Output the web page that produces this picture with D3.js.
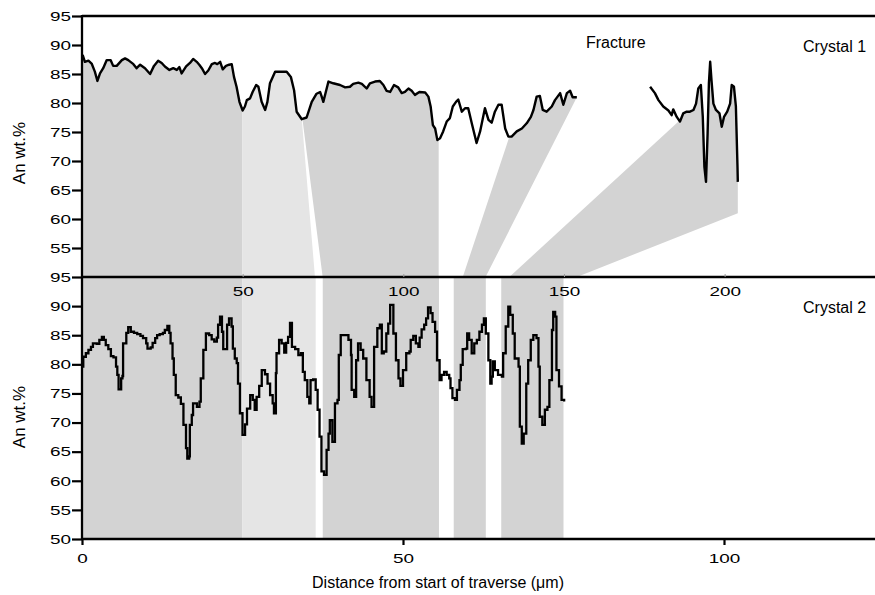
<!DOCTYPE html>
<html><head><meta charset="utf-8">
<script src="https://cdn.jsdelivr.net/npm/d3@7"></script>
<style>body{margin:0;background:#fff}svg{display:block}</style>
</head><body><svg id="chart" width="875" height="595"></svg>
<script>
// ---------------- DATA ----------------
// Crystal 1 (top panel), distance in µm, An wt.%
const crystal1Part1 = [
[0.2,88.3],[0.9,87.1],[2.0,87.3],[3.0,86.8],[4.0,85.4],[4.8,83.8],[5.6,85.1],[6.6,86.0],[7.7,87.4],[8.9,87.4],
[9.7,86.4],[10.8,86.4],[12.4,87.4],[13.4,87.7],[14.4,87.4],[16.0,86.7],[17.0,86.0],[18.1,86.6],[19.6,86.0],[21.2,85.0],
[22.4,86.4],[23.7,87.3],[24.8,86.9],[25.8,86.3],[27.2,85.7],[28.4,86.0],[29.5,85.7],[30.3,86.2],[31.0,85.1],[32.4,86.3],
[33.6,86.9],[34.6,87.6],[35.7,87.1],[36.5,86.6],[37.3,86.0],[38.3,85.0],[39.3,85.6],[40.4,86.7],[41.4,86.9],[42.1,86.7],
[43.0,87.1],[43.8,85.8],[44.8,86.4],[45.8,86.6],[46.6,86.7],[47.3,84.5],[48.1,82.8],[49.0,80.2],[50.0,78.7],[50.7,79.4],
[51.3,80.5],[52.3,80.8],[53.1,81.9],[54.2,83.1],[54.9,82.8],[55.9,80.2],[57.0,78.8],[57.7,80.2],[58.5,83.4],[60.1,85.4],
[61.6,85.4],[63.7,85.4],[65.0,84.5],[66.0,82.2],[66.8,78.5],[68.4,77.2],[69.9,77.5],[71.5,80.2],[73.0,81.6],[74.1,81.9],
[74.6,81.1],[75.1,80.2],[76.7,83.7],[78.2,83.4],[80.3,83.1],[81.9,82.7],[83.4,82.8],[84.4,83.3],[86.0,83.5],[87.1,83.3],
[88.6,82.5],[89.6,83.4],[91.2,83.7],[92.7,83.8],[93.8,83.1],[94.8,82.1],[95.9,81.9],[97.1,83.1],[98.4,82.7],[99.5,81.7],
[100.5,81.9],[101.6,82.5],[102.6,82.1],[103.6,81.4],[105.0,81.9],[106.8,81.8],[107.8,81.1],[108.5,79.4],[109.2,76.2],[109.9,75.6],
[110.6,73.6],[111.4,73.9],[112.4,75.1],[113.5,76.8],[114.5,77.4],[115.4,79.4],[116.4,80.2],[117.1,80.6],[118.2,78.5],[119.2,79.1],
[120.2,79.1],[121.3,76.5],[122.8,73.1],[123.9,75.1],[125.4,79.1],[126.5,77.1],[127.5,76.6],[128.5,78.5],[129.6,79.7],[130.6,79.7],
[131.7,75.6],[132.7,74.2],[133.7,74.2],[135.3,75.1],[136.9,75.6],[138.4,76.5],[139.7,77.6],[140.5,78.8],[141.5,81.1],[142.5,81.2],
[143.4,78.8],[144.6,78.5],[146.2,79.4],[147.2,80.5],[148.8,81.7],[149.8,79.7],[150.9,81.7],[151.9,82.1],[152.7,81.0],[154.0,81.0]
];
const crystal1Part2 = [
[176.8,82.8],[178.3,81.7],[179.4,80.5],[180.9,79.4],[182.5,78.7],[183.5,77.9],[184.0,78.9],[185.1,77.6],[186.1,76.8],[187.1,78.2],
[188.2,78.5],[189.2,78.5],[190.3,78.8],[191.1,79.9],[191.8,82.5],[192.6,83.1],[193.2,77.6],[193.7,69.0],[194.2,66.4],[194.7,74.8],
[195.1,83.4],[195.5,87.1],[195.9,84.0],[196.5,79.9],[197.3,78.8],[198.4,78.2],[199.1,75.9],[199.8,77.6],[200.8,78.5],[201.7,79.9],
[202.2,83.1],[202.9,82.8],[203.5,79.4],[204.0,69.0],[204.1,66.4]
];
// Crystal 2 (bottom panel)
const crystal2 = [
[0.1,79.6],[0.2,81.3],[0.6,81.9],[1.0,82.5],[1.4,83.0],[1.7,83.6],[2.3,83.5],[2.7,84.2],[3.1,84.7],[3.4,84.2],
[3.7,83.3],[4.1,82.6],[4.5,81.4],[4.9,81.2],[5.3,79.6],[5.5,78.2],[5.7,75.7],[6.0,75.7],[6.1,77.6],[6.3,78.0],
[6.4,83.6],[6.9,85.4],[7.2,86.4],[7.6,85.6],[8.1,85.4],[8.6,85.2],[9.1,84.9],[9.5,84.5],[10.0,83.6],[10.2,82.7],
[10.7,82.9],[11.0,83.7],[11.4,84.5],[11.7,85.0],[12.1,85.2],[12.6,85.4],[12.9,85.9],[13.3,86.6],[13.6,85.4],[13.8,83.6],
[14.1,81.0],[14.3,78.2],[14.6,74.7],[15.0,74.3],[15.4,73.2],[15.8,69.6],[16.2,65.6],[16.4,63.8],[16.7,64.2],[16.8,69.6],
[17.1,71.3],[17.3,73.3],[17.9,72.7],[18.3,73.6],[18.5,77.6],[18.9,82.5],[19.3,85.3],[19.8,85.0],[20.2,84.3],[20.6,83.9],
[21.0,84.6],[21.2,86.8],[21.5,88.2],[21.8,85.6],[22.0,82.6],[22.4,82.6],[22.6,86.8],[22.9,87.9],[23.3,86.5],[23.5,82.7],
[23.8,81.0],[24.1,80.2],[24.3,76.7],[24.6,71.6],[25.0,67.9],[25.4,69.7],[25.7,72.4],[26.2,74.7],[26.6,73.9],[26.9,72.2],
[27.2,74.4],[27.6,76.3],[28.0,79.0],[28.5,78.3],[28.9,76.7],[29.3,74.7],[29.7,73.3],[29.9,71.6],[30.2,78.5],[30.3,81.9],
[30.7,84.2],[31.1,83.6],[31.5,82.0],[31.8,83.7],[32.1,84.7],[32.4,87.1],[32.7,83.0],[33.2,82.6],[33.7,81.6],[34.1,81.9],
[34.4,78.7],[34.7,77.3],[35.1,74.4],[35.4,73.3],[35.6,77.3],[36.0,77.4],[36.4,75.6],[36.7,72.2],[37.0,67.6],[37.3,61.6],
[37.7,61.0],[38.1,65.3],[38.4,68.1],[38.6,70.4],[39.0,66.7],[39.4,73.3],[39.8,73.9],[40.0,81.6],[40.3,85.0],[41.0,85.0],
[41.5,84.2],[41.9,81.6],[42.0,75.6],[42.4,74.4],[42.7,80.7],[43.0,83.6],[43.4,82.5],[43.8,81.0],[44.3,77.3],[44.8,74.4],
[45.1,72.7],[45.5,83.0],[46.0,86.2],[46.4,86.8],[46.7,81.9],[47.0,82.2],[47.4,85.3],[47.7,87.0],[48.0,90.2],[48.2,90.2],
[48.5,85.3],[48.9,80.7],[49.3,77.6],[49.6,76.3],[50.0,79.0],[50.5,81.9],[51.0,82.2],[51.2,84.2],[51.6,84.9],[52.0,83.6],
[52.4,83.0],[52.6,84.6],[52.9,86.0],[53.3,86.8],[53.6,87.9],[53.9,89.8],[54.3,88.8],[54.6,87.3],[55.0,85.6],[55.3,80.7],
[55.7,77.3],[56.0,78.2],[56.4,78.7],[56.8,78.2],[57.2,77.6],[57.4,75.9],[57.7,74.2],[58.1,73.9],[58.4,75.6],[58.8,77.3],
[59.0,79.9],[59.3,82.6],[59.8,82.7],[60.0,85.3],[60.3,84.2],[60.7,81.9],[61.1,83.6],[61.5,84.2],[61.9,85.6],[62.3,86.8],
[62.6,87.9],[62.9,85.3],[63.3,80.7],[63.6,76.7],[63.8,77.9],[64.0,80.5],[64.3,79.0],[64.8,78.2],[65.4,77.9],[65.6,81.9],
[66.0,86.5],[66.4,89.9],[66.7,88.5],[67.1,85.3],[67.4,81.0],[68.0,79.6],[68.2,69.3],[68.5,66.4],[68.8,68.1],[69.2,76.7],
[69.5,80.7],[69.9,84.2],[70.3,85.0],[70.8,84.5],[71.1,79.6],[71.3,71.0],[71.7,69.6],[72.1,72.2],[72.5,72.7],[72.8,77.3],
[73.2,85.9],[73.4,89.0],[73.7,88.2],[73.9,79.0],[74.3,76.2],[74.7,73.9],[75.1,73.6]
];
// Correlation bands: crystal 1 distance range on the profile, crystal-1 distance at panel base, crystal-2 distance range
const bandCurveFrom  = [0, 49.9, 68.6, 133.0, 185.9];
const bandCurveTo    = [49.9, 68.4, 111.0, 154.0, 204.1];
const bandBaseLeft   = [0, 49.9, 74.9, 118.5, 133.0];
const bandBaseRight  = [49.9, 72.5, 111.0, 125.6, 154.0];
const bandCorner     = [null, null, null, null, [204.1, 61.0]];
const bandC2Left     = [0, 24.95, 37.5, 57.9, 65.3];
const bandC2Right    = [24.95, 36.4, 55.6, 62.9, 75.0];
const bandTone       = ["dark", "light", "dark", "dark", "dark"];

const yTicksTop = [55, 60, 65, 70, 75, 80, 85, 90, 95];
const yTicksBottom = [50, 55, 60, 65, 70, 75, 80, 85, 90, 95];
const xTicksTop = [50, 100, 150, 200];
const xTicksBottom = [0, 50, 100];

// ---------------- DRAW ----------------
const svg = d3.select("#chart");
const FONT = "'Liberation Sans', Arial, sans-serif";
const toneColor = {dark: "#d3d3d3", light: "#e5e5e5"};

const xTop = d3.scaleLinear().domain([0, 250]).range([82, 885.3]);
const xBot = d3.scaleLinear().domain([0, 125]).range([82, 884.5]);
const yTop = d3.scaleLinear().domain([50, 95]).range([277, 16]);
const yBot = d3.scaleLinear().domain([50, 95]).range([539, 277]);

const allTop = crystal1Part1.concat(crystal1Part2);
function valueAt(x) {
  const seg = (x <= 160) ? crystal1Part1 : crystal1Part2;
  if (x <= seg[0][0]) return seg[0][1];
  if (x >= seg[seg.length - 1][0]) return seg[seg.length - 1][1];
  for (let i = 1; i < seg.length; i++) {
    if (seg[i][0] >= x) {
      const a = seg[i - 1], b = seg[i];
      return a[1] + (b[1] - a[1]) * (x - a[0]) / (b[0] - a[0]);
    }
  }
}

const bandLayer = svg.append("g");
bandCurveFrom.forEach((from, i) => {
  const to = bandCurveTo[i];
  const pts = [[from, valueAt(from)]];
  allTop.forEach(p => { if (p[0] > from && p[0] < to) pts.push(p); });
  pts.push([to, valueAt(to)]);
  if (bandCorner[i]) pts.push(bandCorner[i]);
  pts.push([bandBaseRight[i], 50]);
  pts.push([bandBaseLeft[i], 50]);
  bandLayer.append("path")
    .attr("d", "M" + pts.map(p => [xTop(p[0]), yTop(p[1])].join(",")).join("L") + "Z")
    .attr("fill", toneColor[bandTone[i]]);
  bandLayer.append("rect")
    .attr("x", xBot(bandC2Left[i]))
    .attr("y", yBot(95))
    .attr("width", xBot(bandC2Right[i]) - xBot(bandC2Left[i]))
    .attr("height", yBot(50) - yBot(95))
    .attr("fill", toneColor[bandTone[i]]);
});

// profiles
const lineTop = d3.line().x(d => xTop(d[0])).y(d => yTop(d[1]));
const lineBot = d3.line().x(d => xBot(d[0])).y(d => yBot(d[1])).curve(d3.curveStepAfter);
[crystal1Part1, crystal1Part2].forEach(seg => {
  svg.append("path").attr("d", lineTop(seg)).attr("fill", "none")
    .attr("stroke", "#000").attr("stroke-width", 2.4).attr("stroke-linejoin", "round");
});
svg.append("path").attr("d", lineBot(crystal2)).attr("fill", "none")
  .attr("stroke", "#000").attr("stroke-width", 2.3).attr("stroke-linejoin", "miter");

// frame lines
const frame = svg.append("g").attr("stroke", "#000").attr("stroke-width", 2.3);
frame.append("line").attr("x1", 82).attr("x2", 875).attr("y1", yTop(95)).attr("y2", yTop(95));
frame.append("line").attr("x1", 82).attr("x2", 875).attr("y1", yBot(95)).attr("y2", yBot(95));
frame.append("line").attr("x1", 82).attr("x2", 875).attr("y1", yBot(50)).attr("y2", yBot(50));
frame.append("line").attr("x1", 82).attr("x2", 82).attr("y1", yTop(95) - 1).attr("y2", yBot(50) + 1);

function styleAxis(g) {
  g.select(".domain").remove();
  g.selectAll(".tick line").attr("stroke", "#000").attr("stroke-width", 2.2);
  g.selectAll(".tick text").attr("font-family", FONT).attr("font-size", 13.5).attr("fill", "#000");
}

// y axes
[[yTop, yTicksTop], [yBot, yTicksBottom]].forEach(([sc, tv]) => {
  const g = svg.append("g").attr("transform", "translate(82,0)")
    .call(d3.axisLeft(sc).tickValues(tv).tickSize(10).tickPadding(1));
  styleAxis(g);
  g.selectAll(".tick text").attr("x", 0).attr("text-anchor", "end")
    .attr("transform", "translate(-11,0) scale(1.4,1)");
});

// top panel x axis (labels below the panel base)
const gxt = svg.append("g").attr("transform", `translate(0,${yTop(50)})`)
  .call(d3.axisTop(xTop).tickValues(xTicksTop).tickSize(3).tickFormat(""));
gxt.select(".domain").remove();
gxt.selectAll(".tick line").attr("stroke", "#999").attr("stroke-width", 1);
const gxt2 = svg.append("g").attr("transform", `translate(0,${yTop(50)})`)
  .call(d3.axisBottom(xTop).tickValues(xTicksTop).tickSize(0).tickPadding(9));
gxt2.select(".domain").remove();
gxt2.selectAll(".tick text").attr("font-family", FONT).attr("font-size", 13.5).attr("fill", "#000")
  .attr("transform", "scale(1.4,1)");

// bottom panel x axis
const gxb = svg.append("g").attr("transform", `translate(0,${yBot(50)})`)
  .call(d3.axisBottom(xBot).tickValues(xTicksBottom).tickSize(6).tickPadding(8.5));
styleAxis(gxb);
gxb.selectAll(".tick text").attr("transform", "scale(1.4,1)");

// titles & annotations
svg.append("text").attr("x", 438).attr("y", 588).attr("text-anchor", "middle")
  .attr("font-family", FONT).attr("font-size", 16).attr("fill", "#000")
  .text("Distance from start of traverse (μm)");
[153, 417].forEach(cy => {
  svg.append("text").attr("transform", `translate(25,${cy}) rotate(-90)`)
    .attr("text-anchor", "middle").attr("font-family", FONT).attr("font-size", 17).attr("fill", "#000")
    .text("An wt.%");
});
svg.append("text").attr("x", 586).attr("y", 48).attr("font-family", FONT).attr("font-size", 16)
  .attr("fill", "#000").text("Fracture");
svg.append("text").attr("x", 803).attr("y", 52).attr("font-family", FONT).attr("font-size", 16)
  .attr("fill", "#000").text("Crystal 1");
svg.append("text").attr("x", 803).attr("y", 313).attr("font-family", FONT).attr("font-size", 16)
  .attr("fill", "#000").text("Crystal 2");
</script></body></html>
